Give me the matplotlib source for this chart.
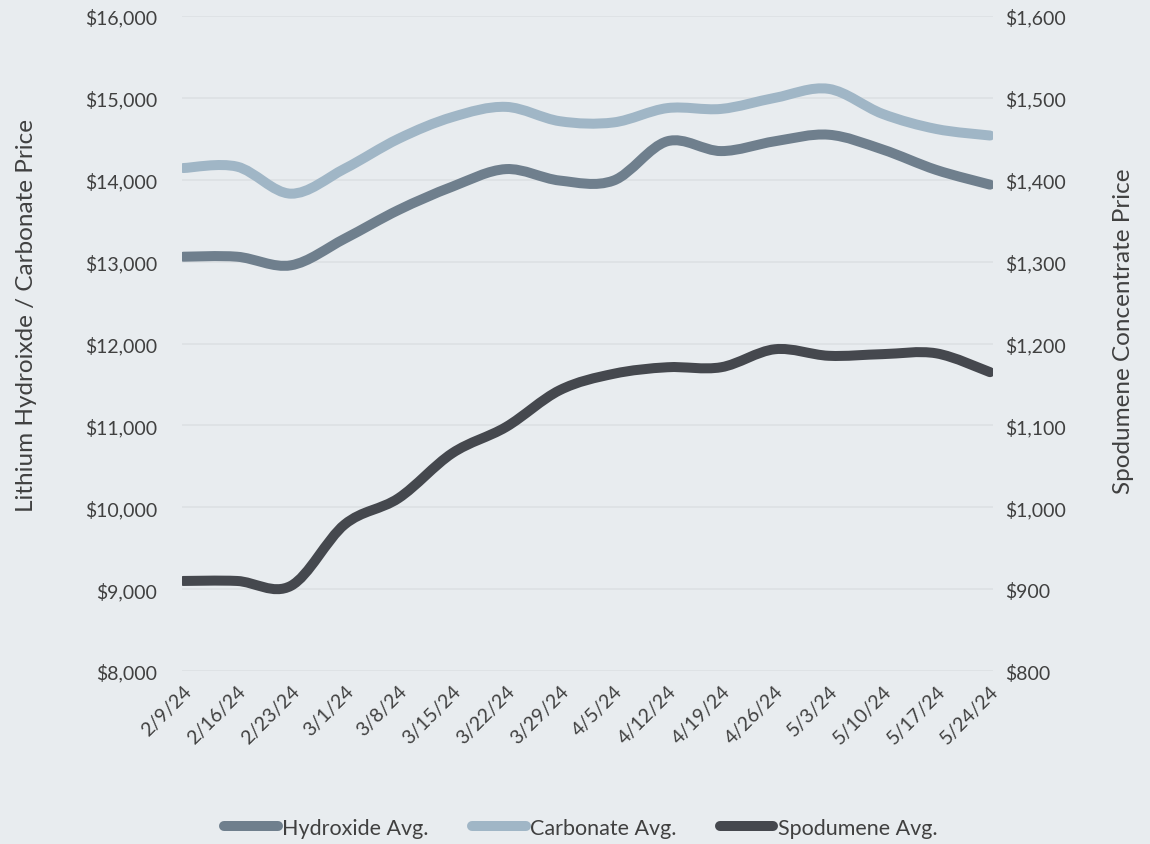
import numpy as np
import matplotlib.pyplot as plt
from matplotlib.path import Path
from matplotlib.patches import PathPatch
from matplotlib.lines import Line2D
from matplotlib.ticker import FuncFormatter

plt.rcParams['font.family'] = ['Lato', 'DejaVu Sans']

# datos
fechas = ['2/9/24', '2/16/24', '2/23/24', '3/1/24', '3/8/24', '3/15/24', '3/22/24', '3/29/24',
          '4/5/24', '4/12/24', '4/19/24', '4/26/24', '5/3/24', '5/10/24', '5/17/24', '5/24/24']
hidroxido = [13060, 13060, 12955, 13280, 13630, 13915, 14130, 13990,
             13990, 14470, 14350, 14470, 14550, 14370, 14120, 13940]
carbonato = [14143, 14160, 13830, 14135, 14500, 14765, 14890, 14715,
             14700, 14875, 14865, 15000, 15110, 14805, 14620, 14540]
espodumeno = [910, 910, 904, 979, 1011, 1066, 1098, 1143,
              1163, 1171, 1171, 1193, 1185, 1187, 1188, 1165]

fondo = '#E8ECEF'
gris_texto = '#404040'
col_hid = '#6F7F8D'
col_car = '#A0B6C6'
col_esp = '#45484E'
ancho = 7.2


def curva_suave(ax, y, color):
    # linea suavizada tipo Excel (Catmull-Rom -> Bezier), pasa por cada punto
    x = np.arange(len(y), dtype=float)
    y = np.asarray(y, dtype=float)
    verts = [(x[0], y[0])]
    codes = [Path.MOVETO]
    n = len(y)
    for i in range(n - 1):
        p0 = (x[max(i - 1, 0)], y[max(i - 1, 0)])
        p1 = (x[i], y[i])
        p2 = (x[i + 1], y[i + 1])
        p3 = (x[min(i + 2, n - 1)], y[min(i + 2, n - 1)])
        c1 = (p1[0] + (p2[0] - p0[0]) / 6, p1[1] + (p2[1] - p0[1]) / 6)
        c2 = (p2[0] - (p3[0] - p1[0]) / 6, p2[1] - (p3[1] - p1[1]) / 6)
        verts += [c1, c2, p2]
        codes += [Path.CURVE4] * 3
    patch = PathPatch(Path(verts, codes), facecolor='none', edgecolor=color,
                      lw=ancho, capstyle='round', joinstyle='round', zorder=3)
    ax.add_patch(patch)


fig = plt.figure(figsize=(11.5, 8.45), dpi=100, facecolor=fondo)
ax = fig.add_axes([0.158, 0.2047, 0.7055, 0.7752], facecolor=fondo)
ax2 = ax.twinx()

curva_suave(ax, hidroxido, col_hid)
curva_suave(ax, carbonato, col_car)
curva_suave(ax2, espodumeno, col_esp)

ax.set_xlim(-0.03, len(fechas) - 1 + 0.056)
ax.set_ylim(8000, 16000)
ax2.set_ylim(800, 1600)
ax.set_yticks(np.arange(8000, 16001, 1000))
ax2.set_yticks(np.arange(800, 1601, 100))
ax.yaxis.set_major_formatter(FuncFormatter(lambda v, p: f'${v:,.0f}'))
ax2.yaxis.set_major_formatter(FuncFormatter(lambda v, p: f'${v:,.0f}'))

ax.set_xticks(range(len(fechas)))
ax.set_xticklabels(fechas, rotation=45, ha='right', rotation_mode='anchor')

ax.grid(axis='y', color='#DCE0E3', lw=1.2)
ax.set_axisbelow(True)
for a in (ax, ax2):
    for s in a.spines.values():
        s.set_visible(False)
    a.tick_params(length=0, labelsize=14, colors=gris_texto)
ax.tick_params(axis='y', pad=17.5)
ax2.tick_params(axis='y', pad=8.5)
ax.tick_params(axis='x', pad=8)

ax.set_ylabel('Lithium Hydroixde / Carbonate Price', fontsize=17.5, color=gris_texto)
ax2.set_ylabel('Spodumene Concentrate Price', fontsize=17.5, color=gris_texto)
ax.yaxis.set_label_coords(-0.178, 0.545)
ax2.yaxis.set_label_coords(1.148, 0.52)

handles = [Line2D([], [], color=c, lw=ancho, solid_capstyle='round')
           for c in (col_hid, col_car, col_esp)]
fig.legend(handles, ['Hydroxide Avg.', 'Carbonate Avg.', 'Spodumene Avg.'],
           loc='center', bbox_to_anchor=(0.505, 0.019), ncol=3, frameon=False,
           fontsize=15.5, labelcolor=gris_texto, handlelength=2.5, handletextpad=0.2,
           columnspacing=2.0)

plt.savefig('out.png', dpi=100, facecolor=fondo)
